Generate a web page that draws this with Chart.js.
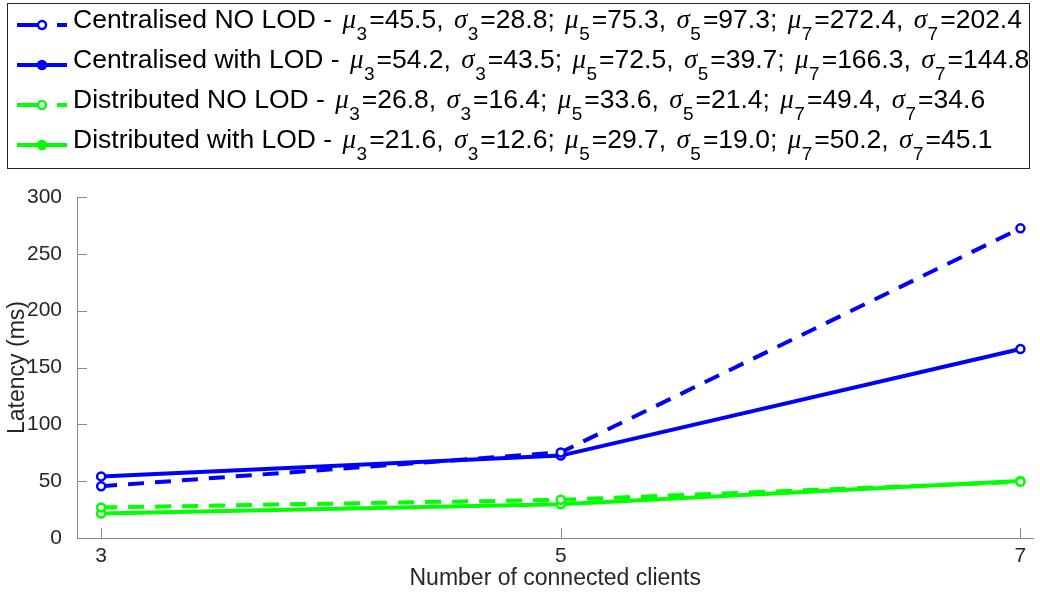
<!DOCTYPE html>
<html>
<head>
<meta charset="utf-8">
<script src="https://cdn.jsdelivr.net/npm/chart.js@4.4.1/dist/chart.umd.min.js"></script>
<style>
html, body { margin: 0; padding: 0; background: #fff; }
#wrap { width: 1040px; height: 595px; }
</style>
</head>
<body>
<div id="wrap"><canvas id="myChart" width="1040" height="595"></canvas></div>
<script>
const clients = [3, 5, 7]
const xTicks = [3, 5, 7]
const yTicks = [0, 50, 100, 150, 200, 250, 300]

const names = ['Centralised NO LOD', 'Centralised with LOD', 'Distributed NO LOD', 'Distributed with LOD']
const centralNoLod = [45.5, 75.3, 272.4]
const centralLod = [54.2, 72.5, 166.3]
const distNoLod = [26.8, 33.6, 49.4]
const distLod = [21.6, 29.7, 50.2]

const centralNoLodStd = [28.8, 97.3, 202.4]
const centralLodStd = [43.5, 39.7, 144.8]
const distNoLodStd = [16.4, 21.4, 34.6]
const distLodStd = [12.6, 19.0, 45.1]

const BLUE = '#0000ff'
const GREEN = '#00ff00'
const AXIS = '#8a8a8a'
const TXT = '#262626'
const SANS = '"Liberation Sans", Arial, sans-serif'

function pts(vals) {
    return clients.map((c, i) => ({ x: c, y: vals[i] }))
}

function ds(label, vals, color, dashed) {
    return {
        label: label,
        data: pts(vals),
        borderColor: color,
        backgroundColor: color,
        borderWidth: 4,
        borderDash: dashed ? [16, 11] : [],
        pointRadius: 4,
        pointBorderWidth: 2.5,
        pointBackgroundColor: '#fff',
        pointBorderColor: color,
        tension: 0
    }
}

const legendRows = [
    { name: names[0], mu: centralNoLod, sd: centralNoLodStd, color: BLUE, dashed: true },
    { name: names[1], mu: centralLod, sd: centralLodStd, color: BLUE, dashed: false },
    { name: names[2], mu: distNoLod, sd: distNoLodStd, color: GREEN, dashed: true },
    { name: names[3], mu: distLod, sd: distLodStd, color: GREEN, dashed: false }
]

// legend box with tex-like subscripts, drawn on the chart canvas
const legendPlugin = {
    id: 'boxLegend',
    afterDraw(chart) {
        const ctx = chart.ctx
        ctx.save()
        ctx.fillStyle = '#fff'
        ctx.fillRect(7.5, 3.5, 1022, 165)
        ctx.strokeStyle = '#262626'
        ctx.lineWidth = 1
        ctx.strokeRect(7.5, 3.5, 1022, 165)

        const mainFont = '26.5px ' + SANS
        const greekFont = 'italic 27px "Liberation Serif", "Times New Roman", serif'
        const subFont = '19px ' + SANS

        legendRows.forEach((row, r) => {
            const base = 28 + r * 40
            const ly = base - 3
            ctx.strokeStyle = row.color
            ctx.lineWidth = 4
            ctx.setLineDash(row.dashed ? [23, 17] : [])
            ctx.beginPath()
            ctx.moveTo(17, ly)
            ctx.lineTo(67, ly)
            ctx.stroke()
            ctx.setLineDash([])
            ctx.beginPath()
            ctx.arc(42, ly, 4, 0, Math.PI * 2)
            ctx.fillStyle = row.dashed ? '#fff' : row.color
            ctx.fill()
            ctx.lineWidth = 2.5
            ctx.stroke()

            // [font, text, baseline shift, gap before]
            const segs = [[mainFont, row.name + ' - ', 0, 0]]
            clients.forEach((c, i) => {
                segs.push([greekFont, '\u03bc', 0, 3])
                segs.push([subFont, String(c), 12, 0.5])
                segs.push([mainFont, '=' + row.mu[i].toFixed(1) + ', ', 0, 2])
                segs.push([greekFont, '\u03c3', 0, 3])
                segs.push([subFont, String(c), 12, 0.5])
                segs.push([mainFont, '=' + row.sd[i].toFixed(1) + (i < clients.length - 1 ? '; ' : ''), 0, 2])
            })
            let x = 73
            ctx.fillStyle = '#000'
            ctx.textBaseline = 'alphabetic'
            ctx.textAlign = 'left'
            segs.forEach(s => {
                ctx.font = s[0]
                x += s[3]
                ctx.fillText(s[1], x, base + s[2])
                x += ctx.measureText(s[1]).width
            })
        })
        ctx.restore()
    }
}

// MATLAB style inward tick marks
const tickPlugin = {
    id: 'inTicks',
    beforeDatasetsDraw(chart) {
        const ctx = chart.ctx
        const xs = chart.scales.x
        const ys = chart.scales.y
        const a = chart.chartArea
        ctx.save()
        ctx.strokeStyle = AXIS
        ctx.lineWidth = 1
        ctx.beginPath()
        xTicks.forEach(v => {
            const px = Math.round(xs.getPixelForValue(v)) + 0.5
            ctx.moveTo(px, a.bottom)
            ctx.lineTo(px, a.bottom - 10)
        })
        yTicks.forEach(v => {
            const py = Math.round(ys.getPixelForValue(v)) + 0.5
            ctx.moveTo(a.left, py)
            ctx.lineTo(a.left + 10, py)
        })
        ctx.stroke()
        ctx.restore()
    }
}

const ctx = document.getElementById('myChart')

new Chart(ctx, {
    type: 'line',
    data: {
        datasets: [
            ds(names[0], centralNoLod, BLUE, true),
            ds(names[1], centralLod, BLUE, false),
            ds(names[2], distNoLod, GREEN, true),
            ds(names[3], distLod, GREEN, false)
        ]
    },
    options: {
        responsive: false,
        animation: false,
        devicePixelRatio: 1,
        layout: { padding: { top: 197, right: 5, left: 0, bottom: 0 } },
        plugins: {
            legend: { display: false },
            tooltip: { enabled: false }
        },
        scales: {
            x: {
                type: 'linear',
                min: 2.895,
                max: 7.057,
                afterBuildTicks: s => { s.ticks = xTicks.map(v => ({ value: v })) },
                afterFit: s => { s.height = 57 },
                grid: { display: false },
                border: { display: true, color: AXIS, width: 1 },
                ticks: {
                    color: TXT,
                    padding: 0,
                    maxRotation: 0,
                    font: { family: SANS, size: 21, lineHeight: 1 }
                },
                title: {
                    display: true,
                    text: 'Number of connected clients',
                    color: TXT,
                    padding: { top: 0, bottom: 3 },
                    font: { family: SANS, size: 23 }
                }
            },
            y: {
                min: 0,
                max: 300,
                afterBuildTicks: s => { s.ticks = yTicks.map(v => ({ value: v })) },
                afterFit: s => { s.width = 77 },
                grid: { display: false },
                border: { display: true, color: AXIS, width: 1 },
                ticks: {
                    color: TXT,
                    padding: 7,
                    font: { family: SANS, size: 21 }
                },
                title: {
                    display: true,
                    text: 'Latency (ms)',
                    color: TXT,
                    padding: { top: 4, bottom: 0 },
                    font: { family: SANS, size: 23 }
                }
            }
        }
    },
    plugins: [tickPlugin, legendPlugin]
});
</script>
</body>
</html>
